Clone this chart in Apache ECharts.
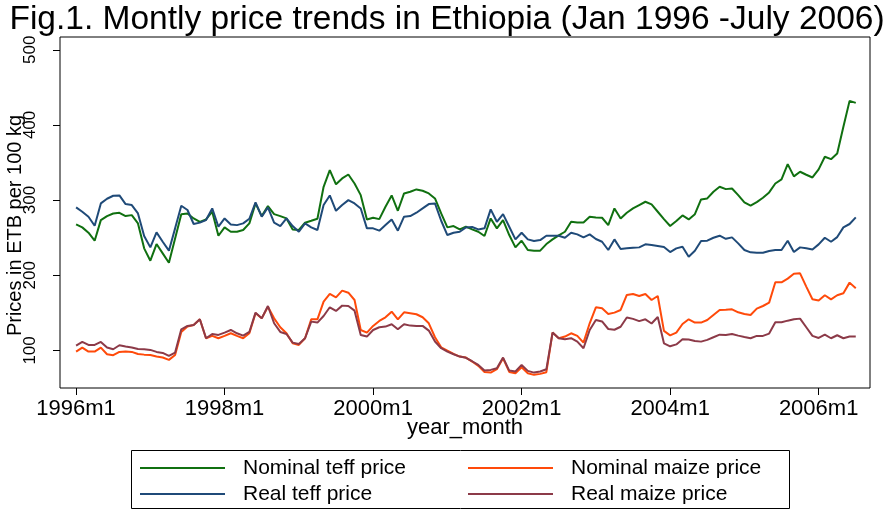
<!DOCTYPE html>
<html lang="en">
<head>
<meta charset="UTF-8">
<title>Montly price trends in Ethiopia</title>
<script src="https://cdn.jsdelivr.net/npm/echarts@6/dist/echarts.min.js"></script>
<style>html, body { margin: 0; background: #fff; }</style>
</head>
<body>
<div id="main" style="width: 894px; height: 514px;"></div>
<script>
// month index 0 = 1996m1, 126 = 2006m7
var tickMonths = [0, 24, 48, 72, 96, 120];
var tickLabels = ['1996m1', '1998m1', '2000m1', '2002m1', '2004m1', '2006m1'];
var yTicks = [100, 200, 300, 400, 500];

var nominalTeff = [
    267.7, 263.7, 256.6, 246, 273.4, 278.7, 282.2, 283.1, 278.7, 280, 269, 235.8,
    219.4, 241.5, 229.1, 216.7, 249, 281.3, 282.2, 275.6, 271.1, 274.2, 284.5, 252.6,
    263.7, 257.9, 257.9, 260.2, 269, 295.6, 278.7, 292, 281.3, 278.7, 275.6, 261,
    260.2, 269.9, 272.5, 275.2, 317.7, 339.9, 321, 328.8, 334.1, 322.1, 306.6, 274.3,
    276.5, 274.7, 291.1, 306.2, 285.8, 308.9, 311.1, 314.2, 312.4, 308.9, 302.2, 282.3,
    263.7, 265.5, 261, 264.6, 261, 257.9, 252.2, 275.6, 262.4, 273.4, 253.5, 237.1,
    246, 233.6, 232.7, 232.7, 241.5, 247.7, 253.1, 257.9, 271.2, 270.3, 270.3, 277.9,
    277, 276.5, 266.8, 288.9, 275.6, 283.1, 288.9, 293.4, 297.8, 294.2, 284.5, 274.7,
    265.5, 272.1, 279.6, 274.3, 281.3, 300.9, 302.2, 311.1, 317.7, 314.6, 315.5, 306.6,
    296.9, 292.5, 297.3, 303.1, 310.2, 322.1, 327.5, 347.8, 331.5, 337.7, 333.7, 330.1,
    340.8, 357.6, 354.5, 362, 397.5, 432, 429.4
];
var realTeff = [
    290.3, 284.5, 277.9, 265.9, 295.6, 301.8, 305.8, 306.2, 294.7, 293.4, 282.3, 252.2,
    237.1, 257.1, 244.6, 232.7, 262.4, 292.5, 286.8, 268.2, 270, 273.4, 288.9, 264.6,
    275.6, 267.6, 266.7, 269, 275.2, 296.9, 277.9, 290.3, 269.9, 265.5, 275.6, 265.5,
    257.9, 269, 263.7, 260.2, 293.4, 306.2, 285.8, 293.4, 300, 295.6, 288.9, 262.4,
    262.4, 259.3, 266.8, 274.3, 259.3, 277.9, 278.7, 283.2, 288.9, 294.7, 295.6, 272.5,
    253.5, 256.6, 257.9, 263.7, 264.2, 261, 262.4, 287.6, 271.1, 281.3, 264.6, 247.7,
    256.6, 247.7, 245.5, 246.8, 252.6, 252.6, 252.6, 249.9, 256.6, 254.4, 250.4, 254.4,
    248.2, 244.6, 233.6, 247.7, 234.9, 235.8, 236.7, 237.1, 241.1, 240.2, 238.9, 237.5,
    230.9, 235.8, 238, 224.7, 232.7, 245.5, 246, 249.9, 252.6, 248.5, 250.4, 242.4,
    233.6, 230.5, 230, 230, 232.3, 233.6, 233.6, 246, 230.9, 237.1, 235.8, 234.4,
    241.1, 249.9, 244.6, 250.8, 263.7, 268.2, 277
];
var nominalMaize = [
    98.4, 103.8, 98.4, 98.4, 103.8, 94.9, 93.6, 98, 98.4, 98, 95.3, 94.4,
    94, 91.8, 90.5, 87.4, 94, 124.6, 131.7, 133.9, 141.4, 116.2, 119.3, 116.2,
    119.3, 122.8, 119.3, 116.2, 122.8, 149.4, 142.7, 158.2, 142.7, 130.8, 122.8, 109.5,
    107.3, 116.2, 141.4, 141.4, 164.9, 175.1, 170.6, 179.5, 176.8, 167.1, 127.2, 123.7,
    132.6, 139.2, 144.1, 151.6, 141.4, 150.7, 149.4, 148.1, 144.1, 136.1, 117.5, 104.2,
    99.8, 95.3, 91.8, 90.5, 85.2, 79.4, 71.4, 70.5, 75, 89.6, 71.4, 69.7,
    77.6, 69.7, 67.5, 68.8, 71, 123.7, 116.2, 118.4, 122.8, 119.3, 110.4, 136.1,
    157.4, 156, 148.5, 150.3, 153.8, 173.8, 175.1, 172.4, 175.1, 167.1, 172.4, 126,
    120, 123.7, 135.2, 141.4, 137, 137, 140.5, 147.2, 153.8, 154, 154.7, 150.7,
    148.5, 147.2, 155.6, 159.1, 163.6, 190.6, 190.6, 195.5, 202.1, 202.6, 184.9, 168,
    166.3, 173.4, 168, 173.4, 176, 190.2, 182.7
];
var realMaize = [
    106.4, 111.3, 107.3, 107.3, 111.3, 103.8, 101.6, 106.9, 105.1, 103.8, 102, 101.6,
    100.7, 98, 96.7, 92.7, 97.1, 128.1, 132.6, 133.9, 141.4, 116.2, 121.9, 120.6,
    123.7, 127.2, 122.8, 119.7, 124.6, 150.3, 142.7, 159.1, 136.1, 124.6, 121.9, 110.4,
    108.6, 116.2, 138.3, 137, 145.8, 157.4, 152.5, 159.6, 159.1, 152.9, 120.6, 118.4,
    127.2, 130.8, 131.7, 134.8, 128.1, 134.8, 133, 132.6, 132.6, 126.4, 111.8, 102.9,
    98.4, 94.9, 91.8, 90.2, 85.6, 80.7, 73.2, 74.1, 76.3, 90.5, 73.2, 71.9,
    80.7, 72.8, 70.5, 71.9, 75, 123.7, 116.2, 114.8, 116.2, 111.7, 102.9, 127.2,
    140.5, 138.5, 128.5, 127.5, 131.5, 143.8, 142, 139, 141.4, 135.8, 144.5, 109.5,
    105.5, 108, 115, 114.5, 112.5, 111.7, 114, 117.5, 121, 120.6, 121.9, 119.7,
    117.9, 116.2, 119.3, 119.3, 122.4, 137.4, 137.4, 139.6, 141.4, 142.3, 130.8, 119.3,
    116.6, 121, 116.2, 120.2, 116.2, 118.4, 118.4
];

var chart = echarts.init(document.getElementById('main'));
var font = "'Liberation Sans', Arial, sans-serif";

function toPoints(arr) {
    return arr.map(function (v, i) { return [i, v]; });
}

function makeSeries(name, data, color) {
    return {
        type: 'line',
        name: name,
        data: toPoints(data),
        symbol: 'none',
        lineStyle: { width: 2, color: color },
        itemStyle: { color: color }
    };
}

var option = {
    animation: false,
    backgroundColor: '#fff',
    title: {
        text: 'Fig.1. Montly price trends in Ethiopia (Jan 1996 -July 2006)',
        left: 'center',
        top: 3,
        padding: 0,
        textStyle: { fontFamily: font, fontSize: 33.5, fontWeight: 'normal', color: '#000' }
    },
    grid: {
        left: 60, right: 24, top: 37, bottom: 126,
        outerBoundsMode: 'none',
        containLabel: false,
        show: true, borderColor: '#000', borderWidth: 1
    },
    legend: [{
        data: ['Nominal teff price', 'Real teff price'],
        orient: 'vertical',
        left: 140, top: 455, padding: 0, itemGap: 0,
        icon: 'rect', itemWidth: 85, itemHeight: 2,
        textStyle: { fontFamily: font, fontSize: 21, color: '#000', lineHeight: 26, padding: [0, 0, 0, 13] }
    }, {
        data: ['Nominal maize price', 'Real maize price'],
        orient: 'vertical',
        left: 468, top: 455, padding: 0, itemGap: 0,
        icon: 'rect', itemWidth: 85, itemHeight: 2,
        textStyle: { fontFamily: font, fontSize: 21, color: '#000', lineHeight: 26, padding: [0, 0, 0, 13] }
    }],
    graphic: [{
        type: 'rect',
        shape: { x: 131.5, y: 450.5, width: 658, height: 58 },
        style: { fill: null, stroke: '#000', lineWidth: 1 },
        silent: true
    }],
    xAxis: {
        type: 'value',
        min: -2.6,
        max: 128.3,
        name: 'year_month',
        nameLocation: 'middle',
        nameGap: 29,
        nameMoveOverlap: false,
        nameTextStyle: { fontFamily: font, fontSize: 22, color: '#000' },
        axisLine: { show: false, onZero: false },
        splitLine: { show: false },
        axisTick: { customValues: tickMonths, length: 7, lineStyle: { color: '#000' } },
        axisLabel: {
            customValues: tickMonths,
            margin: 10,
            fontFamily: font, fontSize: 22, color: '#000',
            formatter: function (v) { return tickLabels[tickMonths.indexOf(v)]; }
        }
    },
    yAxis: {
        type: 'value',
        min: 50,
        max: 517,
        name: 'Prices in ETB per 100 kg',
        nameLocation: 'middle',
        nameGap: 35,
        nameMoveOverlap: false,
        nameTextStyle: { fontFamily: font, fontSize: 20, color: '#000', padding: [0, 26, 0, 0] },
        axisLine: { show: false, onZero: false },
        splitLine: { show: false },
        axisTick: { customValues: yTicks, length: 7, lineStyle: { color: '#000' } },
        axisLabel: {
            customValues: yTicks,
            rotate: 90,
            margin: 21,
            fontFamily: font, fontSize: 17, color: '#000'
        }
    },
    series: [
        makeSeries('Nominal teff price', nominalTeff, '#107010'),
        makeSeries('Nominal maize price', nominalMaize, '#ff4a0a'),
        makeSeries('Real teff price', realTeff, '#1f4a78'),
        makeSeries('Real maize price', realMaize, '#8c3a48')
    ]
};
chart.setOption(option);
</script>
</body>
</html>
